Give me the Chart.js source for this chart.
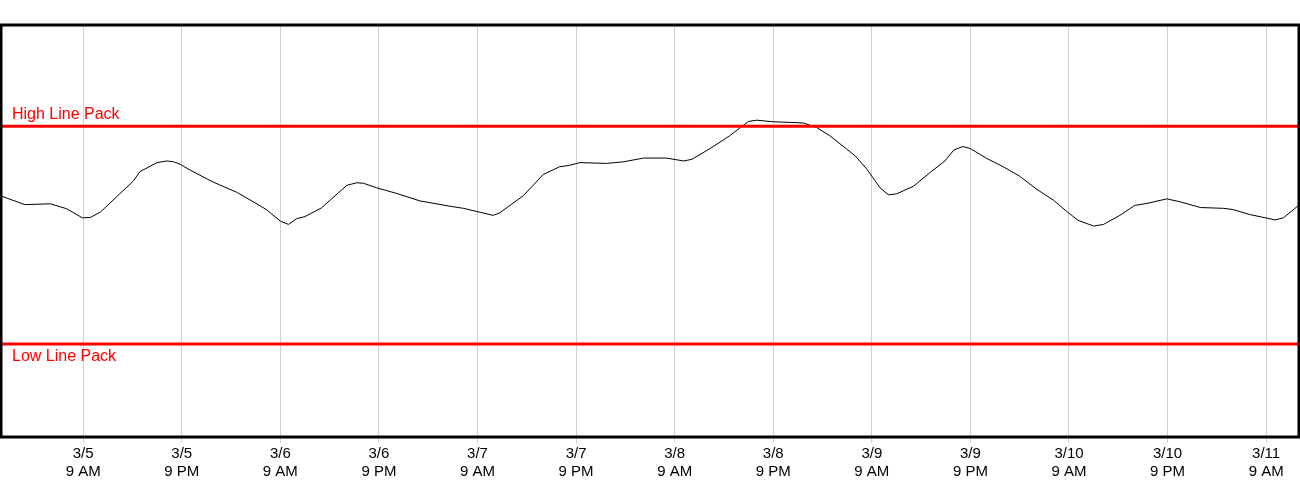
<!DOCTYPE html>
<html>
<head>
<meta charset="utf-8">
<title>Line Pack</title>
<script src="https://cdn.jsdelivr.net/npm/chart.js@4"></script>
<style>
  body { margin: 0; background: #fff; }
</style>
</head>
<body>
<canvas id="packChart" width="1300" height="500"></canvas>
<script>
// hours counted from 3/5 00:00
const hours = [-1, 1.9, 5.0, 7.0, 8.9, 9.9, 11.1, 15.1, 15.9, 18.0, 19.2, 20.0, 20.8, 22.0,
  24.8, 27.7, 29.7, 31.3, 33.0, 34.0, 35.0, 36.0, 38.0, 41.1, 42.3, 43.1, 44.7, 47.2,
  50.0, 53.7, 55.3, 58.9, 59.7, 62.6, 65.0, 67.0, 68.1, 69.5, 72.7, 74.8, 77.2, 80.0,
  82.1, 83.1, 85.3, 87.7, 89.0, 90.0, 91.0, 93.0, 95.9, 96.7, 98.3, 99.9, 103.0, 104.4,
  106.0, 107.0, 108.0, 110.1, 112.1, 113.9, 115.0, 116.1, 117.0, 119.0, 121.0, 123.0,
  125.1, 127.1, 128.7, 130.1, 132.0, 133.2, 135.2, 137.0, 138.5, 140.9, 142.5, 145.0,
  147.8, 149.0, 151.0, 154.1, 155.1, 157];
const linePack = [58.5, 56.4, 56.6, 55.4, 53.2, 53.3, 54.6, 62.1, 64.4, 66.6, 67.0, 66.8, 66.2, 64.8,
  61.9, 59.4, 57.1, 55.2, 52.4, 51.6, 53.0, 53.5, 55.6, 61.1, 61.7, 61.6, 60.5, 59.1,
  57.3, 56.0, 55.5, 53.8, 54.4, 58.6, 63.7, 65.6, 65.9, 66.6, 66.4, 66.8, 67.7, 67.7,
  67.0, 67.4, 70.0, 73.1, 75.1, 76.6, 76.9, 76.5, 76.3, 76.2, 75.1, 73.1, 68.2, 65.0,
  60.5, 58.8, 59.0, 60.9, 64.2, 67.0, 69.7, 70.5, 70.0, 67.6, 65.6, 63.3,
  60.1, 57.5, 54.8, 52.6, 51.2, 51.6, 53.8, 56.2, 56.7, 57.8, 57.1, 55.7,
  55.5, 55.2, 54.0, 52.7, 53.2, 56.3];

const highPack = 75.4;
const lowPack = 22.6;

const tickHours = [9, 21, 33, 45, 57, 69, 81, 93, 105, 117, 129, 141, 153];
const tickDates = ['3/5', '3/5', '3/6', '3/6', '3/7', '3/7', '3/8', '3/8', '3/9', '3/9', '3/10', '3/10', '3/11'];
const tickTimes = ['9 AM', '9 PM', '9 AM', '9 PM', '9 AM', '9 PM', '9 AM', '9 PM', '9 AM', '9 PM', '9 AM', '9 PM', '9 AM'];

const xMin = -1, xMax = 157;

// frame around the plot plus the text labels of the limit lines
const framePlugin = {
  id: 'frame',
  afterDraw(chart) {
    const { ctx, chartArea, scales } = chart;
    ctx.save();
    ctx.strokeStyle = '#000';
    ctx.lineWidth = 3;
    ctx.strokeRect(chartArea.left, chartArea.top, chartArea.right - chartArea.left, chartArea.bottom - chartArea.top);

    ctx.fillStyle = '#ff0000';
    ctx.font = '16px "Liberation Sans", Arial, sans-serif';
    ctx.textBaseline = 'alphabetic';
    ctx.fillText('High Line Pack', chartArea.left + 11, scales.y.getPixelForValue(highPack) - 7);
    ctx.fillText('Low Line Pack', chartArea.left + 11, scales.y.getPixelForValue(lowPack) + 17);
    ctx.restore();
  }
};

const ctx = document.getElementById('packChart').getContext('2d');

new Chart(ctx, {
  type: 'line',
  data: {
    datasets: [
      {
        label: 'High Line Pack',
        data: [{ x: xMin, y: highPack }, { x: xMax, y: highPack }],
        borderColor: '#ff0000',
        borderWidth: 3,
        pointRadius: 0,
        order: 0
      },
      {
        label: 'Low Line Pack',
        data: [{ x: xMin, y: lowPack }, { x: xMax, y: lowPack }],
        borderColor: '#ff0000',
        borderWidth: 3,
        pointRadius: 0,
        order: 0
      },
      {
        label: 'Line Pack',
        data: hours.map((h, i) => ({ x: h, y: linePack[i] })),
        borderColor: '#000',
        borderWidth: 1,
        pointRadius: 0,
        tension: 0,
        order: 1
      }
    ]
  },
  options: {
    responsive: false,
    animation: false,
    layout: { padding: { left: 1, right: 1, top: 25, bottom: 17 } },
    plugins: {
      legend: { display: false },
      tooltip: { enabled: false }
    },
    scales: {
      x: {
        type: 'linear',
        min: xMin,
        max: xMax,
        afterBuildTicks(axis) {
          axis.ticks = tickHours.map(v => ({ value: v }));
        },
        grid: {
          color: '#d0d0d0',
          lineWidth: 1,
          tickLength: 6
        },
        border: { display: false },
        ticks: {
          autoSkip: false,
          maxRotation: 0,
          color: '#000',
          padding: 2,
          font: { family: '"Liberation Sans", Arial, sans-serif', size: 15, lineHeight: 1.2 },
          callback(value) {
            const i = tickHours.indexOf(value);
            return i < 0 ? '' : [tickDates[i], tickTimes[i]];
          }
        }
      },
      y: {
        display: false,
        min: 0,
        max: 100
      }
    }
  },
  plugins: [framePlugin]
});
</script>
</body>
</html>
